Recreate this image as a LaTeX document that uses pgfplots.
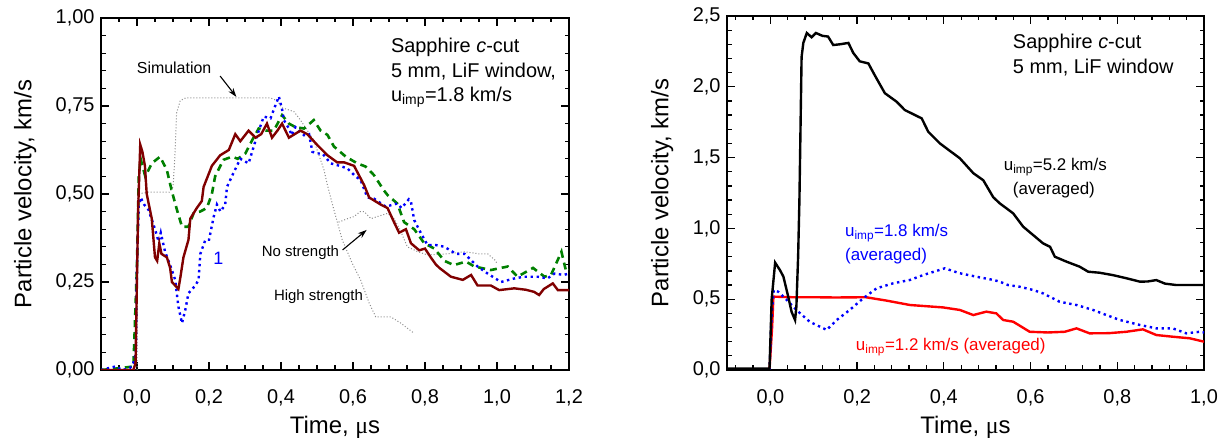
\documentclass[border=0pt]{standalone}
\usepackage{pgfplots}
\pgfplotsset{compat=1.18}
\usepackage{fontspec}
\setmainfont{Liberation Sans}
\newfontfamily\seriff{Liberation Serif}
\usetikzlibrary{arrows.meta}
\definecolor{wine}{RGB}{128,0,0}
\definecolor{ogreen}{RGB}{0,128,0}
\definecolor{sgray}{RGB}{140,140,140}
\pgfplotsset{
 myaxis/.style={
  scale only axis,
  axis line style={line width=1.6bp},
  tick style={line width=1.3bp, black},
  major tick length=8bp, minor tick length=4.5bp,
  tick align=inside,
  tick label style={font=\fontsize{20}{24}\selectfont},
  label style={font=\fontsize{24}{28}\selectfont},
  /pgf/number format/use comma,
  /pgf/number format/fixed,
  /pgf/number format/fixed zerofill,
  /pgf/number format/assume math mode=true,
  xticklabel style={yshift=-16bp},
  yticklabel style={xshift=-3bp},
 },
 bluedot/.style={blue, line width=2.4bp, dash pattern=on 2.4bp off 3.6bp},
 greendash/.style={ogreen, line width=2.6bp, dash pattern=on 7bp off 5bp},
 sim/.style={sgray, line width=1bp, dash pattern=on 1bp off 2bp},
}
\begin{document}
\begin{tikzpicture}
\path[use as bounding box] (0,0) rectangle (1228bp,438bp);
% ---------------- left panel ----------------
\begin{axis}[myaxis, at={(101bp,68bp)}, anchor=south west,
  width=468bp, height=352bp,
  xmin=-0.1, xmax=1.2, ymin=0, ymax=1,
  xtick={0,0.2,0.4,0.6,0.8,1.0,1.2},
  minor xtick={-0.1,-0.05,...,1.21},
  ytick={0,0.25,0.5,0.75,1},
  minor ytick={0,0.05,...,1.01},
  xticklabel style={/pgf/number format/precision=1},
  yticklabel style={/pgf/number format/precision=2},
  xlabel={Time, {\seriff μ}s},
  ylabel={Particle velocity, km/s},
  xlabel style={at={(axis description cs:0.5,-0.162)}, anchor=center},
  ylabel style={at={(axis description cs:-0.162,0.5)}, anchor=center},
]
% simulation, high strength
\addplot[sim] coordinates {(-0.1,0) (0.0,0) (0.002,0.50) (0.03,0.505) (0.09,0.505) (0.1,0.52) (0.105,0.6) (0.11,0.73) (0.12,0.765) (0.135,0.773) (0.25,0.773) (0.37,0.773) (0.39,0.765) (0.403,0.745) (0.436,0.734) (0.454,0.71) (0.491,0.653) (0.519,0.57) (0.529,0.525) (0.547,0.455) (0.57,0.37) (0.598,0.303) (0.621,0.256) (0.645,0.19) (0.663,0.151) (0.705,0.151) (0.733,0.133) (0.77,0.104)};
% simulation, no strength
\addplot[sim] coordinates {(0.56,0.42) (0.585,0.43) (0.603,0.436) (0.62,0.45) (0.631,0.45) (0.65,0.43) (0.668,0.436) (0.696,0.445) (0.714,0.43) (0.73,0.40) (0.751,0.35) (0.78,0.336) (0.807,0.327) (0.863,0.33) (0.91,0.336) (0.95,0.33) (0.974,0.33) (0.997,0.31) (1.0,0.30)};
% green dashed
\addplot[greendash] coordinates {(-0.1,0.0) (-0.05,0.005) (-0.01,0.01) (0.0,0.3) (0.005,0.55) (0.01,0.60) (0.023,0.55) (0.041,0.587) (0.064,0.606) (0.083,0.568) (0.097,0.507) (0.111,0.455) (0.125,0.407) (0.143,0.407) (0.157,0.445) (0.175,0.45) (0.194,0.46) (0.208,0.50) (0.217,0.55) (0.24,0.597) (0.264,0.606) (0.28,0.60) (0.301,0.615) (0.32,0.653) (0.338,0.686) (0.36,0.68) (0.38,0.68) (0.403,0.724) (0.422,0.70) (0.44,0.69) (0.464,0.686) (0.491,0.71) (0.51,0.68) (0.529,0.668) (0.547,0.635) (0.58,0.606) (0.612,0.587) (0.635,0.578) (0.658,0.554) (0.686,0.51) (0.696,0.497) (0.723,0.473) (0.742,0.42) (0.77,0.40) (0.798,0.36) (0.826,0.345) (0.854,0.31) (0.88,0.298) (0.914,0.308) (0.937,0.294) (0.983,0.284) (1.03,0.294) (1.057,0.265) (1.1,0.29) (1.132,0.265) (1.15,0.27) (1.179,0.336) (1.192,0.28) (1.2,0.285)};
% blue dotted
\addplot[bluedot] coordinates {(-0.1,0.0) (-0.08,0.005) (-0.06,0.01) (-0.04,0.0) (-0.02,0.005) (-0.01,0.02) (-0.003,0.05) (0.0,0.3) (0.005,0.47) (0.01,0.49) (0.02,0.47) (0.032,0.455) (0.05,0.40) (0.06,0.365) (0.066,0.39) (0.078,0.336) (0.097,0.284) (0.106,0.256) (0.115,0.18) (0.125,0.133) (0.134,0.17) (0.143,0.218) (0.162,0.24) (0.171,0.256) (0.176,0.33) (0.19,0.37) (0.2,0.37) (0.213,0.435) (0.222,0.47) (0.232,0.45) (0.245,0.47) (0.25,0.52) (0.268,0.56) (0.287,0.60) (0.31,0.587) (0.324,0.634) (0.334,0.667) (0.352,0.72) (0.371,0.715) (0.38,0.74) (0.394,0.777) (0.403,0.74) (0.408,0.71) (0.422,0.686) (0.43,0.667) (0.44,0.69) (0.464,0.667) (0.478,0.67) (0.487,0.62) (0.5,0.615) (0.515,0.615) (0.538,0.587) (0.556,0.582) (0.584,0.573) (0.607,0.55) (0.621,0.54) (0.64,0.49) (0.658,0.487) (0.691,0.464) (0.723,0.473) (0.735,0.46) (0.755,0.485) (0.761,0.478) (0.77,0.426) (0.789,0.388) (0.807,0.355) (0.83,0.355) (0.854,0.35) (0.886,0.33) (0.91,0.33) (0.946,0.294) (0.974,0.274) (1.011,0.25) (1.048,0.26) (1.075,0.265) (1.113,0.265) (1.14,0.26) (1.16,0.274) (1.185,0.27) (1.2,0.274)};
% wine solid
\addplot[wine, line width=2.4bp] coordinates {(-0.1,0) (-0.01,0.0) (-0.004,0.02) (0.003,0.45) (0.009,0.64) (0.015,0.62) (0.022,0.58) (0.027,0.50) (0.041,0.43) (0.05,0.32) (0.056,0.31) (0.062,0.36) (0.068,0.33) (0.083,0.32) (0.092,0.29) (0.097,0.25) (0.115,0.23) (0.12,0.26) (0.129,0.32) (0.143,0.37) (0.148,0.43) (0.166,0.46) (0.18,0.48) (0.185,0.52) (0.208,0.58) (0.231,0.61) (0.255,0.625) (0.273,0.67) (0.287,0.65) (0.31,0.68) (0.329,0.66) (0.345,0.67) (0.361,0.70) (0.375,0.66) (0.39,0.68) (0.403,0.70) (0.422,0.66) (0.438,0.67) (0.454,0.68) (0.473,0.67) (0.50,0.64) (0.529,0.61) (0.556,0.59) (0.575,0.59) (0.603,0.58) (0.631,0.525) (0.645,0.49) (0.677,0.47) (0.696,0.46) (0.714,0.42) (0.728,0.39) (0.747,0.40) (0.761,0.36) (0.784,0.34) (0.80,0.345) (0.816,0.32) (0.83,0.30) (0.84,0.29) (0.872,0.265) (0.905,0.256) (0.928,0.27) (0.946,0.24) (0.983,0.24) (1.006,0.227) (1.048,0.232) (1.08,0.228) (1.103,0.222) (1.117,0.213) (1.13,0.23) (1.155,0.246) (1.169,0.227) (1.2,0.227)};
% annotations
\node[font=\fontsize{16}{19}\selectfont] at (axis cs:0.103,0.858) {Simulation};
\draw[-{Stealth[length=9bp,width=6bp]}, line width=1.1bp] (axis cs:0.231,0.835) -- (axis cs:0.276,0.776);
\node[font=\fontsize{15}{18}\selectfont] at (axis cs:0.454,0.332) {No strength};
\draw[-{Stealth[length=9bp,width=6bp]}, line width=1.1bp] (axis cs:0.571,0.341) -- (axis cs:0.638,0.398);
\node[font=\fontsize{15}{18}\selectfont] at (axis cs:0.504,0.207) {High strength};
\node[font=\fontsize{18}{20}\selectfont, blue] at (axis cs:0.226,0.318) {1};
\node[font=\fontsize{20}{24}\selectfont, anchor=west, inner sep=0pt] at (axis cs:0.705,0.918) {Sapphire \textit{c}-cut};
\node[font=\fontsize{20}{24}\selectfont, anchor=west, inner sep=0pt] at (axis cs:0.705,0.847) {5 mm, LiF window,};
\node[font=\fontsize{20}{24}\selectfont, anchor=west, inner sep=0pt] at (axis cs:0.705,0.776) {u\textsubscript{imp}=1.8 km/s};
\end{axis}
% ---------------- right panel ----------------
\begin{axis}[myaxis, at={(727bp,68bp)}, anchor=south west,
  width=477bp, height=354bp,
  xmin=-0.1, xmax=1.0, ymin=0, ymax=2.5,
  xtick={0,0.2,0.4,0.6,0.8,1.0},
  minor xtick={-0.08,-0.04,...,1.01},
  ytick={0,0.5,1,1.5,2,2.5},
  minor ytick={0,0.1,...,2.51},
  xticklabel style={/pgf/number format/precision=1},
  yticklabel style={/pgf/number format/precision=1},
  xlabel={Time, {\seriff μ}s},
  ylabel={Particle velocity, km/s},
  xlabel style={at={(axis description cs:0.5,-0.161)}, anchor=center},
  ylabel style={at={(axis description cs:-0.136,0.5)}, anchor=center},
]
\addplot[red, line width=2.4bp] coordinates {(-0.1,0.005) (-0.002,0.005) (0.004,0.3) (0.007,0.518) (0.05,0.514) (0.1,0.514) (0.15,0.512) (0.22,0.514) (0.268,0.49) (0.322,0.459) (0.398,0.442) (0.437,0.424) (0.468,0.388) (0.498,0.412) (0.521,0.40) (0.537,0.353) (0.56,0.341) (0.598,0.27) (0.64,0.265) (0.679,0.27) (0.706,0.294) (0.736,0.259) (0.78,0.26) (0.821,0.27) (0.859,0.287) (0.89,0.247) (0.928,0.235) (0.967,0.224) (1.0,0.20)};
\addplot[bluedot] coordinates {(-0.1,0.0) (-0.002,0.0) (0.003,0.4) (0.008,0.565) (0.018,0.553) (0.038,0.494) (0.06,0.424) (0.091,0.34) (0.13,0.283) (0.153,0.353) (0.183,0.424) (0.214,0.506) (0.245,0.577) (0.283,0.612) (0.322,0.636) (0.352,0.67) (0.402,0.718) (0.437,0.683) (0.475,0.659) (0.514,0.636) (0.529,0.624) (0.548,0.60) (0.575,0.588) (0.606,0.565) (0.629,0.541) (0.667,0.482) (0.706,0.459) (0.744,0.424) (0.775,0.388) (0.806,0.353) (0.852,0.318) (0.89,0.294) (0.928,0.294) (0.959,0.259) (0.99,0.27) (1.0,0.265)};
\addplot[black, line width=2.4bp] coordinates {(-0.1,0.01) (-0.05,0.01) (-0.002,0.01) (0.003,0.5) (0.011,0.758) (0.022,0.706) (0.03,0.66) (0.041,0.52) (0.049,0.41) (0.057,0.353) (0.06,0.447) (0.064,0.8) (0.067,1.2) (0.072,2.21) (0.076,2.31) (0.084,2.38) (0.095,2.35) (0.105,2.38) (0.12,2.36) (0.133,2.355) (0.145,2.295) (0.16,2.30) (0.18,2.31) (0.191,2.24) (0.206,2.18) (0.226,2.165) (0.241,2.08) (0.264,1.955) (0.291,1.895) (0.31,1.836) (0.349,1.777) (0.364,1.683) (0.391,1.60) (0.437,1.495) (0.468,1.39) (0.491,1.34) (0.514,1.22) (0.529,1.177) (0.56,1.106) (0.583,1.012) (0.606,0.953) (0.629,0.894) (0.645,0.87) (0.656,0.80) (0.683,0.765) (0.713,0.73) (0.733,0.694) (0.759,0.687) (0.79,0.67) (0.821,0.648) (0.852,0.624) (0.87,0.625) (0.89,0.635) (0.91,0.61) (0.936,0.60) (0.967,0.60) (1.0,0.60)};
\node[font=\fontsize{20}{24}\selectfont, anchor=west, inner sep=0pt] at (axis cs:0.559,2.309) {Sapphire \textit{c}-cut};
\node[font=\fontsize{20}{24}\selectfont, anchor=west, inner sep=0pt] at (axis cs:0.559,2.133) {5 mm, LiF window};
\node[font=\fontsize{17}{20}\selectfont, anchor=west, inner sep=0pt] at (axis cs:0.538,1.434) {u\textsubscript{imp}=5.2 km/s};
\node[font=\fontsize{17}{20}\selectfont, anchor=west, inner sep=0pt] at (axis cs:0.559,1.271) {(averaged)};
\node[font=\fontsize{17}{20}\selectfont, anchor=west, inner sep=0pt, blue] at (axis cs:0.172,0.967) {u\textsubscript{imp}=1.8 km/s};
\node[font=\fontsize{17}{20}\selectfont, anchor=west, inner sep=0pt, blue] at (axis cs:0.172,0.805) {(averaged)};
\node[font=\fontsize{17}{20}\selectfont, anchor=west, inner sep=0pt, red] at (axis cs:0.197,0.162) {u\textsubscript{imp}=1.2 km/s (averaged)};
\end{axis}
\end{tikzpicture}
\end{document}
